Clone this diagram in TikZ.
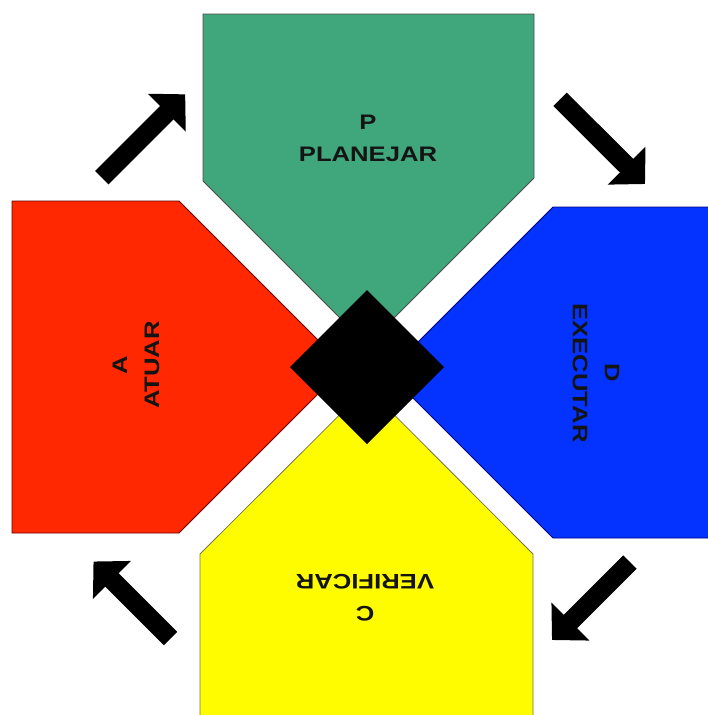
\documentclass[tikz,border=0pt]{standalone}
\usepackage{fontspec}
\newfontfamily\lab[FakeStretch=1.22]{Liberation Sans}
\usetikzlibrary{arrows.meta}
\definecolor{pgreen}{RGB}{64,166,123}
\definecolor{pred}{RGB}{255,40,0}
\definecolor{pblue}{RGB}{4,51,255}
\definecolor{pyellow}{RGB}{255,252,0}
\definecolor{txt}{RGB}{20,20,20}
\tikzset{
  piece/.style={line width=0.8pt, line join=miter},
  label/.style={font=\lab\bfseries\fontsize{21}{32}\selectfont, text=txt, align=center, inner sep=0pt},
  bigarrow/.style={line width=19pt, line cap=butt, -{Triangle[length=26pt,width=52pt]}}
}
\begin{document}
\begin{tikzpicture}[x=1pt,y=-1pt]
\useasboundingbox (0,0) rectangle (708,715);
% pieces
\draw[piece, fill=pgreen, draw=black!70] (203,14) -- (534,14) -- (534,178) -- (367,345) -- (203,181) -- cycle;
\draw[piece, fill=pred, draw=red!40!black] (12,201) -- (179,201) -- (345,367) -- (179,533) -- (12,533) -- cycle;
\draw[piece, fill=pblue, draw=blue!50!black] (712,207) -- (553,207) -- (387.5,372.5) -- (553,538) -- (712,538) -- cycle;
\draw[piece, fill=pyellow, draw=yellow!40!black] (200,720) -- (200,554) -- (367,387.5) -- (533,554) -- (533,720) -- cycle;
% centre diamond
\fill[black] (367,290) -- (444,367) -- (367,444) -- (290,367) -- cycle;
% labels
\node[label] (plan) at (368,138) {P\\PLANEJAR};
\node[label, rotate=90] (act) at (136,365) {A\\ATUAR};
\node[label, rotate=-90] (do) at (596,373) {D\\EXECUTAR};
\node[label, rotate=180] (check) at (365,598) {C\\VERIFICAR};
% arrows
\coordinate (a1s) at (101.8,177.7); \coordinate (a1e) at (185.2,94.3);
\coordinate (a2s) at (560,99.3);    \coordinate (a2e) at (645,184);
\coordinate (a3s) at (630,562);     \coordinate (a3e) at (552,640);
\coordinate (a4s) at (170.5,638.5); \coordinate (a4e) at (93.5,561.5);
\draw[bigarrow] (a1s) -- (a1e);
\draw[bigarrow] (a2s) -- (a2e);
\draw[bigarrow] (a3s) -- (a3e);
\draw[bigarrow] (a4s) -- (a4e);
\end{tikzpicture}
\end{document}
